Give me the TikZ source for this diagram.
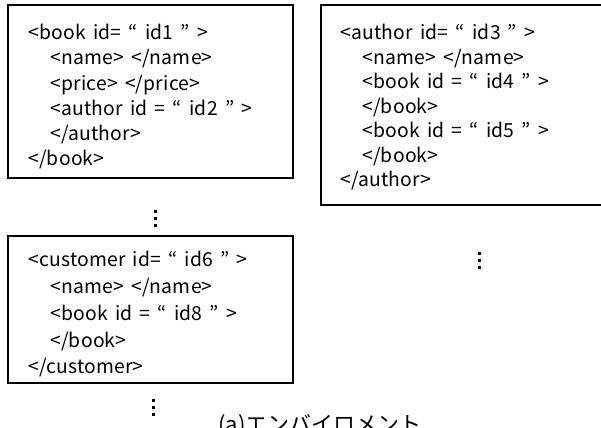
\documentclass[tikz,border=0pt]{standalone}
\usepackage{fontspec}
\setmainfont{Noto Sans CJK JP}
\newfontfamily\xmlfont[LetterSpace=1,WordSpace=1.6]{Noto Sans CJK JP}
\newcommand{\ind}{\hspace*{16.5pt}}
\begin{document}
\begin{tikzpicture}[x=0.75pt,y=-0.75pt,
    xmlbox/.style={draw,line width=1.1pt},
    xmltext/.style={anchor=north west,inner sep=0pt,align=left,
      font=\xmlfont\fontsize{14.5}{18.9}\selectfont},
    morebox/.style={fill=black}]
    \useasboundingbox (0,0) rectangle (601,428);
    \clip (0,0) rectangle (601,428);
    % the three elements
    \draw[xmlbox] (8,5) rectangle (293,178);
    \draw[xmlbox] (321,5) rectangle (610,205);
    \draw[xmlbox] (8,236) rectangle (293,383);
    \node[xmltext] (book) at (28,24) {<book id= “ id1 ” >\\
        \ind<name> </name>\\
        \ind<price> </price>\\
        \ind<author id = “ id2 ” >\\
        \ind</author>\\
        </book>};
    \node[xmltext,font=\xmlfont\fontsize{14.5}{18.4}\selectfont] (author) at (340,24) {<author id= “ id3 ” >\\
        \ind<name> </name>\\
        \ind<book id = “ id4 ” >\\
        \ind</book>\\
        \ind<book id = “ id5 ” >\\
        \ind</book>\\
        </author>};
    \node[xmltext,font=\xmlfont\fontsize{14.5}{20.1}\selectfont] (customer) at (28,251) {<customer id= “ id6 ” >\\
        \ind<name> </name>\\
        \ind<book id = “ id8 ” >\\
        \ind</book>\\
        </customer>};
    % vertical dots for the elements left out
    \foreach \x/\y in {155/210,153/399,479/252}
        \foreach \d in {0,7,14} \fill[morebox] (\x-1.5,\y+\d) rectangle ++(3,3);
    \node[anchor=base west,inner sep=0pt,font=\fontsize{16.5}{16.5}\selectfont] (caption) at (218,432) {(a)エンバイロメント};
\end{tikzpicture}
\end{document}
